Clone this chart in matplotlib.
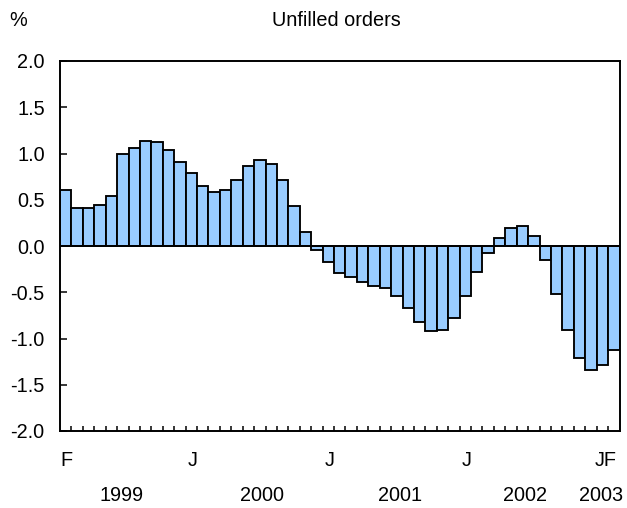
import matplotlib
matplotlib.use("Agg")
import matplotlib.pyplot as plt
import numpy as np

plt.rcParams['font.family'] = ['Liberation Sans', 'DejaVu Sans']

# Monthly values, Feb 1999 .. Feb 2003
values = [0.61, 0.41, 0.41, 0.44, 0.54, 0.99, 1.06, 1.14, 1.12, 1.04, 0.91,
          0.79, 0.65, 0.58, 0.61, 0.71, 0.86, 0.93, 0.89, 0.71, 0.43, 0.15,
          -0.04, -0.17, -0.29, -0.34, -0.385, -0.43, -0.45, -0.54, -0.67, -0.82,
          -0.92, -0.91, -0.78, -0.545, -0.28, -0.08, 0.09, 0.20, 0.22, 0.11,
          -0.15, -0.52, -0.91, -1.21, -1.34, -1.29, -1.12]
month_labels = ["F", "J", "J", "J", "JF"]
month_pos = [0.05, 11.1, 23.1, 35.1, 47.3]
years = ["1999", "2000", "2001", "2002", "2003"]
year_pos = [4.85, 17.2, 29.3, 40.2, 46.9]
yticks = [-2.0, -1.5, -1.0, -0.5, 0.0, 0.5, 1.0, 1.5, 2.0]

FS = 14.3
W, H = 627, 508
fig = plt.figure(figsize=(W / 100, H / 100), dpi=100)
ax = fig.add_axes([60 / W, 1 - 431 / H, (619.5 - 60) / W, (431 - 61) / H])

x = np.arange(len(values))
ax.bar(x, values, width=1.0, color='#99ccff', edgecolor='black', linewidth=1.35, zorder=2)
ax.axhline(0, color='black', lw=1.4, zorder=3)

ax.set_xlim(-0.5, len(values) - 0.5)
ax.set_ylim(-2.0, 2.0)
ax.set_yticks(yticks)
ax.set_yticklabels([f"{v:.1f}" for v in yticks], fontsize=FS)
ax.tick_params(axis='y', direction='in', length=5, width=1.1, pad=11)

ax.set_xticks(np.arange(len(values) - 1) + 0.5)
ax.set_xticklabels([])
ax.tick_params(axis='x', direction='in', length=3.5, width=1.1)

for s in ax.spines.values():
    s.set_linewidth(1.4)

tr = ax.get_xaxis_transform()
for p, lab in zip(month_pos, month_labels):
    ax.text(p, -0.081, lab, transform=tr, ha='center', va='center', fontsize=FS)
for p, yl in zip(year_pos, years):
    ax.text(p, -0.173, yl, transform=tr, ha='center', va='center', fontsize=FS)

fig.text(18 / W, 1 - 20 / H, "%", ha='center', va='center', fontsize=FS)
fig.text(336 / W, 1 - 20 / H, "Unfilled orders", ha='center', va='center', fontsize=FS)

fig.savefig("out.png", dpi=100)
